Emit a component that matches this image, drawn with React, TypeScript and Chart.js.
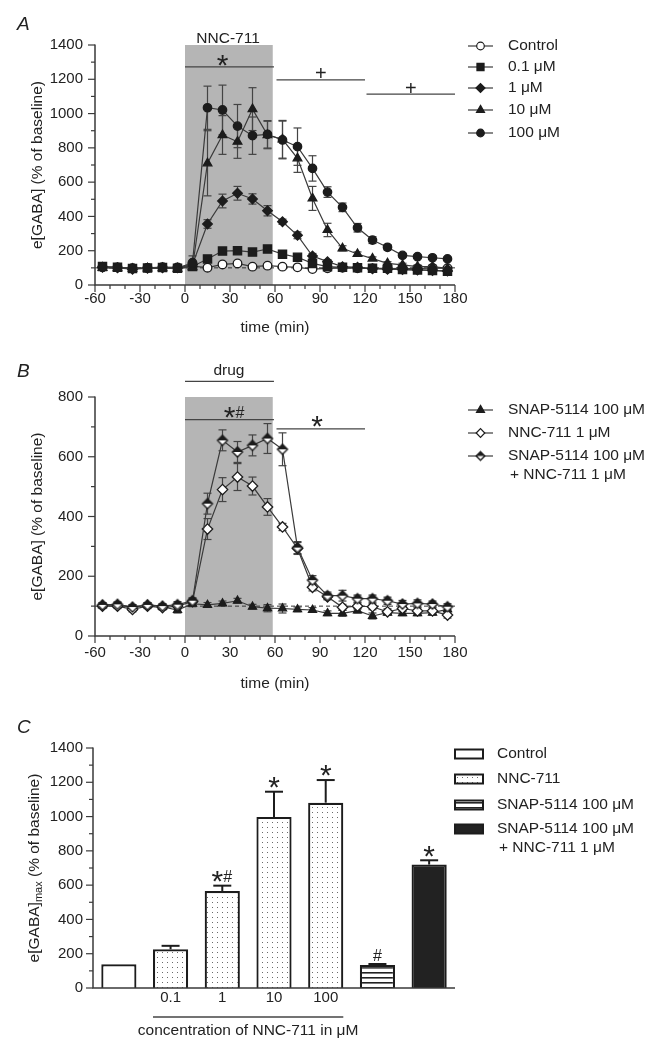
import { useEffect, useRef } from 'react';
import { Chart, registerables } from 'chart.js';

Chart.register(...registerables);

const FONT = '"Liberation Sans", Arial, Helvetica, sans-serif';
const TEXT = '#222222';
const INK = '#1c1c1c';
const LINE = '#3a3a3a';
const SHADE = '#b5b5b5';

// ---------------- data ----------------
const timeMin = [-55, -45, -35, -25, -15, -5, 5, 15, 25, 35, 45, 55, 65, 75, 85, 95, 105, 115, 125, 135, 145, 155, 165, 175];
const timeTicks = [-60, -30, 0, 30, 60, 90, 120, 150, 180];
const gabaTicksA = [0, 200, 400, 600, 800, 1000, 1200, 1400];
const gabaTicksB = [0, 200, 400, 600, 800];
const drugWindow = [0, 58.5];

// Panel A
const aControl = [105, 103, 98, 100, 104, 103, 110, 101, 120, 126, 107, 113, 107, 103, 93, 97, 100, 98, 96, 95, 97, 96, 100, 98];
const aControlErr = [8, 6, 6, 6, 6, 8, 10, 8, 12, 12, 8, 10, 8, 8, 8, 8, 8, 8, 8, 8, 8, 8, 8, 8];
const a01 = [108, 104, 96, 99, 102, 97, 108, 152, 198, 200, 192, 210, 180, 162, 126, 107, 103, 101, 97, 97, 90, 88, 85, 80];
const a01Err = [8, 6, 6, 6, 6, 8, 10, 15, 18, 20, 18, 20, 15, 12, 12, 10, 8, 8, 8, 8, 8, 8, 8, 8];
const a1 = [104, 100, 92, 98, 100, 100, 120, 356, 490, 535, 502, 433, 369, 290, 169, 136, 107, 103, 95, 92, 90, 88, 85, 82];
const a1Err = [8, 6, 6, 6, 6, 8, 10, 25, 40, 40, 30, 30, 15, 20, 15, 12, 10, 8, 8, 8, 8, 8, 8, 8];
const a10 = [100, 98, 95, 97, 99, 95, 105, 710, 875, 836, 1026, 875, 850, 739, 505, 321, 214, 181, 154, 126, 117, 107, 107, 97];
const a10Err = [8, 6, 6, 6, 6, 8, 20, 190, 113, 97, 125, 80, 110, 82, 70, 39, 15, 12, 10, 10, 10, 10, 10, 10];
const a100 = [103, 101, 97, 99, 101, 99, 130, 1034, 1021, 927, 871, 879, 846, 807, 680, 542, 453, 334, 262, 220, 173, 165, 159, 152];
const a100Err = [8, 6, 6, 6, 6, 8, 40, 126, 145, 126, 109, 80, 110, 109, 74, 31, 25, 25, 20, 15, 12, 10, 10, 10];

// Panel B
const bSnap = [103, 104, 95, 104, 98, 87, 108, 104, 109, 118, 98, 93, 92, 89, 87, 76, 76, 85, 67, 78, 76, 76, 78, 89];
const bSnapErr = [8, 8, 8, 8, 8, 10, 10, 8, 8, 8, 8, 12, 15, 8, 8, 8, 10, 8, 10, 8, 8, 8, 8, 8];
const bNnc = [100, 100, 89, 100, 95, 100, 115, 358, 490, 532, 502, 432, 365, 293, 163, 131, 96, 100, 98, 81, 92, 84, 84, 70];
const bNncErr = [8, 8, 8, 8, 8, 10, 10, 35, 40, 45, 30, 28, 12, 20, 12, 10, 10, 10, 10, 10, 10, 10, 10, 10];
const bCombo = [104, 106, 97, 104, 100, 105, 118, 443, 655, 616, 638, 661, 625, 296, 187, 135, 135, 125, 125, 118, 107, 109, 107, 98];
const bComboErr = [8, 8, 8, 8, 8, 10, 10, 35, 35, 35, 35, 50, 55, 20, 15, 12, 18, 12, 12, 12, 12, 12, 10, 10];

// Panel C
const barLabels = ['', '0.1', '1', '10', '100', '', ''];
const barValues = [138, 226, 566, 998, 1081, 134, 720];
const barErrors = [0, 20, 31, 147, 132, 6, 25];
const barMarks = ['', '', '*#', '*', '*', '#', '*'];

// significance annotations
const sigA = [
  { from: 0, to: 59.3, level: 1272, mark: '*', at: 25 },
  { from: 61, to: 120, level: 1196, mark: '+', at: 90.5 },
  { from: 121, to: 180, level: 1114, mark: '+', at: 150.5 },
];
const sigB = [
  { from: 0, to: 59.3, level: 724, mark: '*#', at: 33 },
  { from: 61, to: 120, level: 693, mark: '*', at: 88 },
];
const drugLineB = { from: 0, to: 59.3, level: 852 };

// ---------------- helpers ----------------
function drawMarker(ctx: any, style: any, x: number, y: number, r: number, fill: string, lw = 1.3) {
  ctx.save();
  if (typeof style !== 'string') {
    ctx.drawImage(style, x - style.width / 2, y - style.height / 2);
    ctx.restore();
    return;
  }
  ctx.fillStyle = fill;
  ctx.strokeStyle = INK;
  ctx.lineWidth = lw;
  ctx.beginPath();
  if (style === 'circle') ctx.arc(x, y, r, 0, Math.PI * 2);
  else if (style === 'rect') {
    const s = r * Math.SQRT1_2;
    ctx.rect(x - s, y - s, 2 * s, 2 * s);
  } else if (style === 'rectRot') {
    ctx.moveTo(x - r, y); ctx.lineTo(x, y - r); ctx.lineTo(x + r, y); ctx.lineTo(x, y + r); ctx.closePath();
  } else if (style === 'triangle') {
    ctx.moveTo(x, y - r); ctx.lineTo(x + r * 0.866, y + r * 0.5); ctx.lineTo(x - r * 0.866, y + r * 0.5); ctx.closePath();
  }
  ctx.fill();
  ctx.stroke();
  ctx.restore();
}

function makeHalfDiamond(r: number) {
  const c = document.createElement('canvas');
  const s = Math.ceil(2 * r + 4);
  c.width = s; c.height = s;
  const g = c.getContext('2d') as CanvasRenderingContext2D;
  const m = s / 2;
  g.beginPath(); g.moveTo(m - r, m); g.lineTo(m, m - r); g.lineTo(m + r, m); g.lineTo(m, m + r); g.closePath();
  g.fillStyle = '#fff'; g.fill();
  g.beginPath(); g.moveTo(m - r, m); g.lineTo(m, m - r); g.lineTo(m + r, m); g.closePath();
  g.fillStyle = INK; g.fill();
  g.beginPath(); g.moveTo(m - r, m); g.lineTo(m, m - r); g.lineTo(m + r, m); g.lineTo(m, m + r); g.closePath();
  g.lineWidth = 1.4; g.strokeStyle = INK; g.stroke();
  return c;
}

// glyph drawing with vertical centering
const GLYPH: any = {
  '*': { size: 30, k: 0.48, w: 11 },
  '#': { size: 16, k: 0.35, w: 10 },
  '+': { size: 20, k: 0.35, w: 11 },
};
function drawMarks(ctx: any, text: string, xc: number, yc: number) {
  const chars = text.split('');
  const total = chars.reduce((s, ch) => s + GLYPH[ch].w, 0);
  let x = xc - total / 2;
  ctx.save();
  ctx.fillStyle = TEXT;
  ctx.textAlign = 'center';
  ctx.textBaseline = 'alphabetic';
  chars.forEach((ch) => {
    const g = GLYPH[ch];
    ctx.font = `${g.size}px ${FONT}`;
    ctx.fillText(ch, x + g.w / 2, yc + g.k * g.size);
    x += g.w;
  });
  ctx.restore();
}

function seg(ctx: any, x1: number, y1: number, x2: number, y2: number) {
  ctx.beginPath(); ctx.moveTo(x1, y1); ctx.lineTo(x2, y2); ctx.stroke();
}

function drawAxes(chart: any, o: any) {
  const { ctx, chartArea: ca, scales } = chart;
  const xs = scales.x, ys = scales.y;
  ctx.save();
  ctx.strokeStyle = LINE;
  ctx.lineWidth = 1.5;
  ctx.beginPath();
  ctx.moveTo(ca.left, ca.top - 0.5);
  ctx.lineTo(ca.left, ca.bottom);
  ctx.lineTo(ca.right, ca.bottom);
  ctx.stroke();
  ctx.lineWidth = 1.2;
  for (let v = ys.min; v <= ys.max + 1e-6; v += o.yMinor) {
    const y = ys.getPixelForValue(v);
    const len = Math.abs(v % o.yMajor) < 1e-6 ? 7 : 4;
    seg(ctx, ca.left - len, y, ca.left, y);
  }
  if (o.xTicks) {
    for (let v = xs.min; v <= xs.max + 1e-6; v += o.xMinor) {
      const x = xs.getPixelForValue(v);
      const len = Math.abs(v % o.xMajor) < 1e-6 ? 7 : 4;
      seg(ctx, x, ca.bottom, x, ca.bottom + len);
    }
  }
  ctx.restore();
}

function drawText(ctx: any, text: string, x: number, y: number, size = 15.5, align = 'center', italic = false) {
  ctx.save();
  ctx.fillStyle = TEXT;
  ctx.font = `${italic ? 'italic ' : ''}${size}px ${FONT}`;
  ctx.textAlign = align;
  ctx.textBaseline = 'alphabetic';
  ctx.fillText(text, x, y);
  ctx.restore();
}

function drawYTitle(ctx: any, cx: number, cy: number, sub: boolean) {
  ctx.save();
  ctx.translate(cx, cy);
  ctx.rotate(-Math.PI / 2);
  ctx.fillStyle = TEXT;
  ctx.textBaseline = 'middle';
  ctx.textAlign = 'left';
  const big = `15.5px ${FONT}`;
  const small = `11px ${FONT}`;
  const parts = sub
    ? [{ t: 'e[GABA]', f: big, dy: 0 }, { t: 'max', f: small, dy: 4 }, { t: ' (% of baseline)', f: big, dy: 0 }]
    : [{ t: 'e[GABA] (% of baseline)', f: big, dy: 0 }];
  let total = 0;
  parts.forEach((p) => { ctx.font = p.f; total += ctx.measureText(p.t).width; });
  let x = -total / 2;
  parts.forEach((p) => {
    ctx.font = p.f;
    ctx.fillText(p.t, x, p.dy);
    x += ctx.measureText(p.t).width;
  });
  ctx.restore();
}

function drawShadeBaselineErrors(chart: any) {
  const { ctx, chartArea: ca, scales } = chart;
  const xs = scales.x, ys = scales.y;
  ctx.save();
  const x0 = xs.getPixelForValue(drugWindow[0]);
  const x1 = xs.getPixelForValue(drugWindow[1]);
  ctx.fillStyle = SHADE;
  ctx.fillRect(x0, ca.top, x1 - x0, ca.bottom - ca.top);
  ctx.strokeStyle = '#333';
  ctx.lineWidth = 1;
  ctx.setLineDash([4, 3]);
  const yb = ys.getPixelForValue(100);
  seg(ctx, ca.left, yb, ca.right, yb);
  ctx.setLineDash([]);
  ctx.strokeStyle = '#444';
  ctx.lineWidth = 1.2;
  chart.data.datasets.forEach((ds: any) => {
    const errs = ds.errors;
    if (!errs) return;
    ds.data.forEach((p: any, i: number) => {
      const e = errs[i];
      if (!e) return;
      const px = xs.getPixelForValue(p.x);
      const yt = ys.getPixelForValue(p.y + e);
      const ybt = ys.getPixelForValue(p.y - e);
      seg(ctx, px, yt, px, ybt);
      seg(ctx, px - 4, yt, px + 4, yt);
      seg(ctx, px - 4, ybt, px + 4, ybt);
    });
  });
  ctx.restore();
}

function drawSig(chart: any, list: any[], markGap: number) {
  const { ctx, scales } = chart;
  const xs = scales.x, ys = scales.y;
  ctx.save();
  ctx.strokeStyle = '#444';
  ctx.lineWidth = 1.3;
  list.forEach((s) => {
    const y = ys.getPixelForValue(s.level);
    seg(ctx, xs.getPixelForValue(s.from), y, xs.getPixelForValue(s.to), y);
    drawMarks(ctx, s.mark, xs.getPixelForValue(s.at), y - markGap);
  });
  ctx.restore();
}

function lineDs(label: string, values: number[], errs: number[], style: any, fill: string, radius: number) {
  return {
    label,
    data: timeMin.map((t, i) => ({ x: t, y: values[i] })),
    errors: errs,
    showLine: true,
    borderColor: LINE,
    borderWidth: 1.2,
    pointStyle: style,
    pointRadius: radius,
    pointHoverRadius: radius,
    pointBackgroundColor: fill,
    pointBorderColor: INK,
    pointBorderWidth: 1.3,
    clip: false,
  };
}

const plainLabel = (v: any) => String(v);

function timeOptions(yMax: number, yTicks: number[], padTop: number, xHeight: number, xPad: number) {
  const tickFont = { family: FONT, size: 15 };
  return {
    responsive: false,
    animation: false,
    events: [],
    layout: { padding: { left: 0, right: 204, top: padTop, bottom: 0 } },
    plugins: { legend: { display: false }, tooltip: { enabled: false } },
    scales: {
      x: {
        type: 'linear',
        min: -60,
        max: 180,
        afterFit: (s: any) => { s.height = xHeight; },
        afterBuildTicks: (s: any) => { s.ticks = timeTicks.map((v) => ({ value: v })); },
        ticks: { font: tickFont, color: TEXT, padding: xPad, maxRotation: 0, autoSkip: false, callback: plainLabel },
        grid: { display: false, drawTicks: false },
        border: { display: false },
      },
      y: {
        type: 'linear',
        min: 0,
        max: yMax,
        afterFit: (s: any) => { s.width = 95; },
        afterBuildTicks: (s: any) => { s.ticks = yTicks.map((v) => ({ value: v })); },
        ticks: { font: tickFont, color: TEXT, padding: 12, autoSkip: false, callback: plainLabel },
        grid: { display: false, drawTicks: false },
        border: { display: false },
      },
    },
  };
}

const legendLineX = [468, 493];

function drawLineLegend(ctx: any, items: any[]) {
  items.forEach((it) => {
    ctx.save();
    ctx.strokeStyle = LINE;
    ctx.lineWidth = 1.2;
    seg(ctx, legendLineX[0], it.y, legendLineX[1], it.y);
    ctx.restore();
    drawMarker(ctx, it.style, (legendLineX[0] + legendLineX[1]) / 2, it.y, it.r, it.fill, 1.2);
    it.text.forEach((t: string, k: number) => {
      ctx.save();
      ctx.fillStyle = TEXT;
      ctx.font = `15.5px ${FONT}`;
      ctx.textAlign = 'left';
      ctx.textBaseline = 'middle';
      ctx.fillText(t, 508 + (k > 0 ? 2 : 0), it.y + k * 19);
      ctx.restore();
    });
  });
}

export default function App() {
  const refA = useRef<HTMLCanvasElement>(null);
  const refB = useRef<HTMLCanvasElement>(null);
  const refC = useRef<HTMLCanvasElement>(null);

  useEffect(() => {
    const half = makeHalfDiamond(5);
    const halfSmall = makeHalfDiamond(4.3);

    // ---------- Panel A ----------
    const pluginA = {
      id: 'panelA',
      beforeDatasetsDraw(chart: any) { drawShadeBaselineErrors(chart); },
      afterDraw(chart: any) {
        const { ctx, chartArea: ca, scales } = chart;
        drawAxes(chart, { xMinor: 10, xMajor: 30, yMinor: 100, yMajor: 200, xTicks: true });
        drawText(ctx, 'A', 17, 30, 19, 'left', true);
        drawText(ctx, 'NNC-711', scales.x.getPixelForValue(28.7), ca.top - 2);
        drawSig(chart, sigA, 6.5);
        drawYTitle(ctx, 38, (ca.top + ca.bottom) / 2, false);
        drawText(ctx, 'time (min)', (ca.left + ca.right) / 2, 332);
        drawLineLegend(ctx, [
          { y: 46, style: 'circle', r: 3.8, fill: '#fff', text: ['Control'] },
          { y: 67, style: 'rect', r: 5, fill: INK, text: ['0.1 μM'] },
          { y: 88, style: 'rectRot', r: 4.5, fill: INK, text: ['1 μM'] },
          { y: 110, style: 'triangle', r: 4.6, fill: INK, text: ['10 μM'] },
          { y: 133, style: 'circle', r: 3.8, fill: INK, text: ['100 μM'] },
        ]);
      },
    };
    const chartA = new Chart(refA.current as any, {
      type: 'scatter',
      data: {
        datasets: [
          lineDs('100 μM', a100, a100Err, 'circle', INK, 4.2),
          lineDs('10 μM', a10, a10Err, 'triangle', INK, 5),
          lineDs('1 μM', a1, a1Err, 'rectRot', INK, 4.8),
          lineDs('0.1 μM', a01, a01Err, 'rect', INK, 5.8),
          lineDs('Control', aControl, aControlErr, 'circle', '#fff', 4.3),
        ] as any,
      },
      options: timeOptions(1400, gabaTicksA, 45, 55, 5) as any,
      plugins: [pluginA],
    });

    // ---------- Panel B ----------
    const pluginB = {
      id: 'panelB',
      beforeDatasetsDraw(chart: any) { drawShadeBaselineErrors(chart); },
      afterDraw(chart: any) {
        const { ctx, chartArea: ca, scales } = chart;
        const xs = scales.x, ys = scales.y;
        drawAxes(chart, { xMinor: 10, xMajor: 30, yMinor: 100, yMajor: 200, xTicks: true });
        drawText(ctx, 'B', 17, 37, 19, 'left', true);
        ctx.save();
        ctx.strokeStyle = '#444';
        ctx.lineWidth = 1.3;
        const yd = ys.getPixelForValue(drugLineB.level);
        seg(ctx, xs.getPixelForValue(drugLineB.from), yd, xs.getPixelForValue(drugLineB.to), yd);
        ctx.restore();
        drawText(ctx, 'drug', xs.getPixelForValue(29.3), yd - 6);
        drawSig(chart, sigB, 7.5);
        drawYTitle(ctx, 37.5, (ca.top + ca.bottom) / 2, false);
        drawText(ctx, 'time (min)', (ca.left + ca.right) / 2, 348);
        drawLineLegend(ctx, [
          { y: 70, style: 'triangle', r: 4.6, fill: INK, text: ['SNAP-5114 100 μM'] },
          { y: 93, style: 'rectRot', r: 4.3, fill: '#fff', text: ['NNC-711 1 μM'] },
          { y: 116, style: halfSmall, r: 4.3, fill: INK, text: ['SNAP-5114 100 μM', '+ NNC-711 1 μM'] },
        ]);
      },
    };
    const chartB = new Chart(refB.current as any, {
      type: 'scatter',
      data: {
        datasets: [
          lineDs('SNAP-5114 100 μM + NNC-711 1 μM', bCombo, bComboErr, half, INK, 5),
          lineDs('NNC-711 1 μM', bNnc, bNncErr, 'rectRot', '#fff', 5.2),
          lineDs('SNAP-5114 100 μM', bSnap, bSnapErr, 'triangle', INK, 4.6),
        ] as any,
      },
      options: timeOptions(800, gabaTicksB, 57, 64, 8) as any,
      plugins: [pluginB],
    });

    // ---------- Panel C ----------
    const cctx = (refC.current as HTMLCanvasElement).getContext('2d') as CanvasRenderingContext2D;
    const dotTile = document.createElement('canvas');
    dotTile.width = 5; dotTile.height = 5;
    const dg = dotTile.getContext('2d') as CanvasRenderingContext2D;
    dg.fillStyle = '#fff'; dg.fillRect(0, 0, 5, 5);
    dg.fillStyle = '#6a6a6a'; dg.fillRect(2, 2, 1, 1);
    const dots = cctx.createPattern(dotTile, 'repeat') as CanvasPattern;
    const stripeTile = document.createElement('canvas');
    stripeTile.width = 4; stripeTile.height = 5;
    const sg = stripeTile.getContext('2d') as CanvasRenderingContext2D;
    sg.fillStyle = '#fff'; sg.fillRect(0, 0, 4, 5);
    sg.fillStyle = '#222'; sg.fillRect(0, 2, 4, 1.6);
    const stripes = cctx.createPattern(stripeTile, 'repeat') as CanvasPattern;
    const barFills: any[] = ['#ffffff', dots, dots, dots, dots, stripes, '#222222'];

    const pluginC = {
      id: 'panelC',
      afterDatasetsDraw(chart: any) {
        const { ctx, scales } = chart;
        const ys = scales.y;
        const meta = chart.getDatasetMeta(0);
        ctx.save();
        ctx.strokeStyle = INK;
        ctx.lineWidth = 2;
        meta.data.forEach((bar: any, i: number) => {
          const top = ys.getPixelForValue(barValues[i]);
          const et = ys.getPixelForValue(barValues[i] + barErrors[i]);
          if (barErrors[i] > 0) {
            seg(ctx, bar.x, top, bar.x, et);
            seg(ctx, bar.x - 9, et, bar.x + 9, et);
          }
          if (barMarks[i]) drawMarks(ctx, barMarks[i], bar.x, et - 9);
        });
        ctx.restore();
      },
      afterDraw(chart: any) {
        const { ctx, chartArea: ca } = chart;
        drawAxes(chart, { yMinor: 100, yMajor: 200, xTicks: false });
        drawText(ctx, 'C', 17, 33, 19, 'left', true);
        drawYTitle(ctx, 35, (ca.top + ca.bottom) / 2, true);
        const meta = chart.getDatasetMeta(0);
        const b1 = meta.data[1], b4 = meta.data[4];
        ctx.save();
        ctx.strokeStyle = '#444';
        ctx.lineWidth = 1.3;
        seg(ctx, b1.x - b1.width / 2, 317, b4.x + b4.width / 2, 317);
        ctx.restore();
        drawText(ctx, 'concentration of NNC-711 in μM', (b1.x - b1.width / 2 + b4.x + b4.width / 2) / 2, 335);
        const items = [
          { y: 54, fill: '#ffffff', text: ['Control'] },
          { y: 79, fill: dots, text: ['NNC-711'] },
          { y: 105, fill: stripes, text: ['SNAP-5114 100 μM'] },
          { y: 129, fill: '#222222', text: ['SNAP-5114 100 μM', '+ NNC-711 1 μM'] },
        ];
        items.forEach((it) => {
          ctx.save();
          ctx.fillStyle = it.fill;
          ctx.fillRect(455, it.y - 4.5, 28, 9);
          ctx.strokeStyle = INK;
          ctx.lineWidth = 2;
          ctx.strokeRect(455, it.y - 4.5, 28, 9);
          ctx.restore();
          it.text.forEach((t, k) => {
            ctx.save();
            ctx.fillStyle = TEXT;
            ctx.font = `15.5px ${FONT}`;
            ctx.textAlign = 'left';
            ctx.textBaseline = 'middle';
            ctx.fillText(t, 497 + (k > 0 ? 2 : 0), it.y + k * 19);
            ctx.restore();
          });
        });
      },
    };

    const chartC = new Chart(refC.current as any, {
      type: 'bar',
      data: {
        labels: barLabels,
        datasets: [
          {
            label: 'e[GABA]max',
            data: barValues,
            backgroundColor: barFills,
            borderColor: INK,
            borderWidth: 2.2,
            borderSkipped: 'start',
            barPercentage: 0.68,
            categoryPercentage: 1,
          },
        ] as any,
      },
      options: {
        responsive: false,
        animation: false,
        events: [],
        layout: { padding: { left: 0, right: 204, top: 48, bottom: 0 } },
        plugins: { legend: { display: false }, tooltip: { enabled: false } },
        scales: {
          x: {
            type: 'category',
            afterFit: (s: any) => { s.height = 61; },
            ticks: { font: { family: FONT, size: 15 }, color: TEXT, padding: 1, maxRotation: 0, autoSkip: false },
            grid: { display: false, drawTicks: false },
            border: { display: false },
          },
          y: {
            type: 'linear',
            min: 0,
            max: 1400,
            afterFit: (s: any) => { s.width = 93; },
            afterBuildTicks: (s: any) => { s.ticks = gabaTicksA.map((v) => ({ value: v })); },
            ticks: { font: { family: FONT, size: 15 }, color: TEXT, padding: 10, autoSkip: false, callback: plainLabel },
            grid: { display: false, drawTicks: false },
            border: { display: false },
          },
        },
      } as any,
      plugins: [pluginC],
    });

    return () => {
      chartA.destroy();
      chartB.destroy();
      chartC.destroy();
    };
  }, []);

  return (
    <div style={{ position: 'absolute', left: 0, top: 0, width: 659, height: 1049, background: '#fff' }}>
      <canvas ref={refA} width={659} height={340} style={{ position: 'absolute', left: 0, top: 0 }} />
      <canvas ref={refB} width={659} height={360} style={{ position: 'absolute', left: 0, top: 340 }} />
      <canvas ref={refC} width={659} height={349} style={{ position: 'absolute', left: 0, top: 700 }} />
    </div>
  );
}
